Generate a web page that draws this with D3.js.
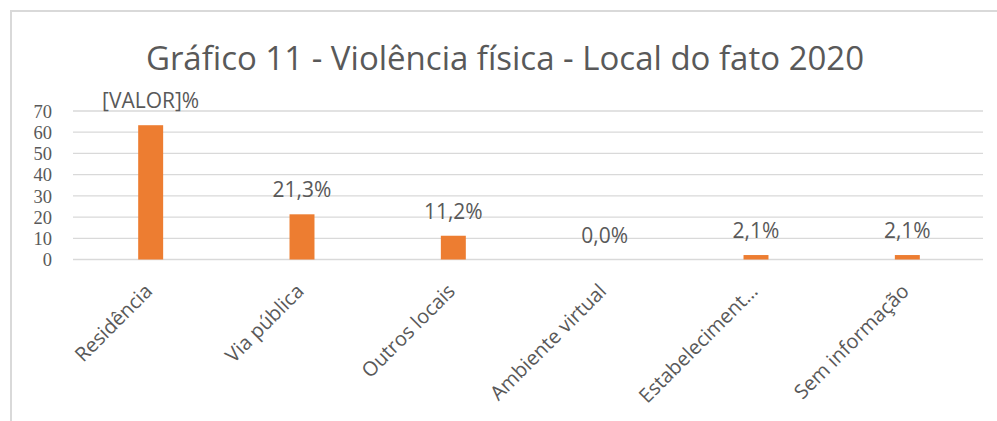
<!DOCTYPE html>
<html><head><meta charset="utf-8">
<script src="https://cdn.jsdelivr.net/npm/d3@7"></script>
<style>body{margin:0;background:#fff}svg{display:block}</style>
</head><body>
<svg id="c" width="997" height="421"></svg>
<script>
const categories = ["Residência","Via pública","Outros locais","Ambiente virtual","Estabeleciment…","Sem informação"];
const values = [63.3, 21.3, 11.2, 0.0, 2.1, 2.1];
const valueLabels = ["[VALOR]%","21,3%","11,2%","0,0%","2,1%","2,1%"];
const yTicks = [0,10,20,30,40,50,60,70];
const title = "Gráfico 11 - Violência física - Local do fato 2020";

(function(){
const svg = d3.select("#c");
const W = 997, H = 421;
const pLeft = 75, pRight = 983, pTop = 111, pBottom = 259.5;

// frame
svg.append("path").attr("d", `M11,${H} L11,11 L${W},11`).attr("fill","none").attr("stroke","#d9d9d9").attr("stroke-width",2);

const x = d3.scaleBand().domain(categories).range([pLeft,pRight]).paddingInner(0.835).paddingOuter(0.4175);
const y = d3.scaleLinear().domain([0,70]).range([pBottom,pTop]);

// gridlines
svg.append("g").selectAll("line").data(yTicks).join("line")
  .attr("x1",pLeft-2).attr("x2",pRight).attr("y1",d=>y(d)).attr("y2",d=>y(d))
  .attr("stroke","#d9d9d9").attr("stroke-width",1.3);

// y axis labels
const yAxis = d3.axisLeft(y).tickValues(yTicks).tickSize(0).tickPadding(0);
const gy = svg.append("g").attr("transform","translate(52,0)").call(yAxis);
gy.select(".domain").remove();
gy.selectAll("text").attr("font-family","Liberation Serif").attr("font-size",18.5).attr("fill","#595959").attr("dy","0.34em");

// bars
svg.append("g").selectAll("rect").data(values).join("rect")
  .attr("x",(d,i)=>x(categories[i])).attr("width",x.bandwidth())
  .attr("y",d=>y(d)).attr("height",d=>y(0)-y(d)).attr("fill","#ED7D31");

// value labels
svg.append("g").selectAll("text").data(values).join("text")
  .attr("x",(d,i)=>x(categories[i])+x.bandwidth()/2)
  .attr("y",d=>y(d)-17)
  .attr("text-anchor","middle").attr("font-family","Open Sans").attr("font-size",21).attr("fill","#595959")
  .text((d,i)=>valueLabels[i]);

// x axis labels
const xAxis = d3.axisBottom(x).tickSize(0).tickPadding(0);
const gx = svg.append("g").attr("transform",`translate(0,${pBottom})`).call(xAxis);
gx.select(".domain").remove();
gx.selectAll("text").attr("font-family","Open Sans").attr("font-size",20).attr("fill","#595959")
  .attr("text-anchor","end").attr("dy",0)
  .attr("transform","translate(3,33) rotate(-45)");

// title
svg.append("text").attr("x",505).attr("y",70).attr("text-anchor","middle")
  .attr("font-family","Open Sans").attr("font-size",33).attr("fill","#595959").text(title);
})();
</script>
</body></html>
